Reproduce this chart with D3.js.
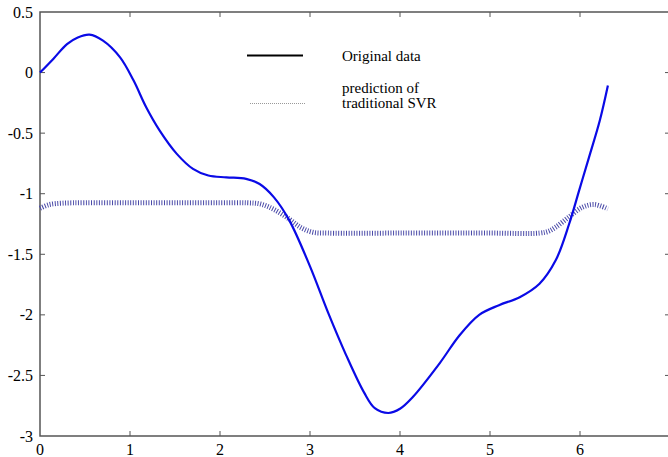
<!DOCTYPE html>
<html>
<head>
<meta charset="utf-8">
<script src="https://cdn.jsdelivr.net/npm/d3@7"></script>
<style>
  body { margin: 0; background: #fff; }
  svg { display: block; }
  text { font-family: "Liberation Serif", "Times New Roman", serif; fill: #000; }
  .tick-label { font-size: 16px; }
  .legend-text { font-size: 15px; }
</style>
</head>
<body>
<div id="chart"></div>
<script>
// Original data curve
const origX = [0, 0.15, 0.3, 0.42, 0.55, 0.7, 0.89, 1.04, 1.18, 1.33, 1.52, 1.7, 1.87, 2.07, 2.29, 2.44, 2.6, 2.77,
  3.0, 3.2, 3.4, 3.6, 3.72, 3.87, 4.0, 4.14, 4.44, 4.66, 4.88, 5.1, 5.33, 5.55, 5.73, 5.88, 5.99, 6.1, 6.22, 6.31];
const origY = [0, 0.115, 0.235, 0.29, 0.313, 0.264, 0.126, -0.066, -0.286, -0.479, -0.671, -0.795, -0.85, -0.865, -0.877, -0.92, -1.03, -1.22,
  -1.6, -1.98, -2.33, -2.64, -2.77, -2.81, -2.775, -2.68, -2.40, -2.17, -2.0, -1.92, -1.854, -1.743, -1.55, -1.248, -0.974, -0.7, -0.396, -0.107];

// prediction of traditional SVR
const svrX = [0, 0.1, 0.25, 0.5, 1.0, 1.5, 2.0, 2.3, 2.45, 2.6, 2.77, 2.9, 3.03, 3.2, 4.0, 5.0, 5.55, 5.65, 5.73, 5.88, 6.03, 6.16, 6.31];
const svrY = [-1.12, -1.09, -1.078, -1.075, -1.075, -1.075, -1.075, -1.075, -1.085, -1.13, -1.21, -1.28, -1.318, -1.325, -1.325, -1.325, -1.325, -1.31, -1.276, -1.19, -1.11, -1.089, -1.125];

const xTicks = [0, 1, 2, 3, 4, 5, 6, 7];
const yTicks = [0.5, 0, -0.5, -1, -1.5, -2, -2.5, -3];
const yTickLabels = ['0.5', '0', '-0.5', '-1', '-1.5', '-2', '-2.5', '-3'];

const W = 668, H = 457;
const M = { left: 40, right: -2, top: 12, bottom: 21 };

const svg = d3.select('#chart').append('svg')
  .attr('width', W)
  .attr('height', H);

const x = d3.scaleLinear().domain([0, 7]).range([M.left, W - M.right]);
const y = d3.scaleLinear().domain([-3, 0.5]).range([H - M.bottom, M.top]);

const axisColor = '#555';

// box
svg.append('rect')
  .attr('x', x(0)).attr('y', y(0.5))
  .attr('width', x(7) - x(0)).attr('height', y(-3) - y(0.5))
  .attr('fill', 'none').attr('stroke', axisColor).attr('stroke-width', 1.5);

// inward ticks on all four sides
const tickLen = 5;
xTicks.slice(1, -1).forEach(t => {
  svg.append('line').attr('x1', x(t)).attr('x2', x(t)).attr('y1', y(-3)).attr('y2', y(-3) - tickLen)
    .attr('stroke', axisColor);
  svg.append('line').attr('x1', x(t)).attr('x2', x(t)).attr('y1', y(0.5)).attr('y2', y(0.5) + tickLen)
    .attr('stroke', axisColor);
});
yTicks.slice(1, -1).forEach(t => {
  svg.append('line').attr('x1', x(0)).attr('x2', x(0) + tickLen).attr('y1', y(t)).attr('y2', y(t))
    .attr('stroke', axisColor);
  svg.append('line').attr('x1', x(7)).attr('x2', x(7) - tickLen).attr('y1', y(t)).attr('y2', y(t))
    .attr('stroke', axisColor);
});

// tick labels
svg.selectAll('.xl').data(xTicks.slice(0, -1)).join('text')
  .attr('class', 'tick-label')
  .attr('x', d => x(d))
  .attr('y', y(-3) + 19)
  .attr('text-anchor', 'middle')
  .text(d => d);

svg.selectAll('.yl').data(yTicks).join('text')
  .attr('class', 'tick-label')
  .attr('x', x(0) - 7)
  .attr('y', d => y(d))
  .attr('dy', '0.35em')
  .attr('text-anchor', 'end')
  .text((d, i) => yTickLabels[i]);

const line = d3.line()
  .x(d => x(d[0]))
  .y(d => y(d[1]))
  .curve(d3.curveCatmullRom.alpha(0.5));

// SVR prediction: thick dotted band
svg.append('path')
  .datum(svrX.map((v, i) => [v, svrY[i]]))
  .attr('d', line)
  .attr('fill', 'none')
  .attr('stroke', '#4a4aa8')
  .attr('stroke-width', 5)
  .attr('stroke-dasharray', '1,1.6');

// original data
svg.append('path')
  .datum(origX.map((v, i) => [v, origY[i]]))
  .attr('d', line)
  .attr('fill', 'none')
  .attr('stroke', '#0a0ae6')
  .attr('stroke-width', 2.2);

// legend
svg.append('line')
  .attr('x1', 247).attr('x2', 303).attr('y1', 55.5).attr('y2', 55.5)
  .attr('stroke', '#000').attr('stroke-width', 2);
svg.append('text').attr('class', 'legend-text').attr('x', 342).attr('y', 61).text('Original data');

svg.append('line')
  .attr('x1', 250).attr('x2', 305).attr('y1', 103.5).attr('y2', 103.5)
  .attr('stroke', '#999').attr('stroke-width', 1)
  .attr('stroke-dasharray', '1,1');
svg.append('text').attr('class', 'legend-text').attr('x', 342).attr('y', 93).text('prediction of');
svg.append('text').attr('class', 'legend-text').attr('x', 342).attr('y', 108).text('traditional SVR');
</script>
</body>
</html>
